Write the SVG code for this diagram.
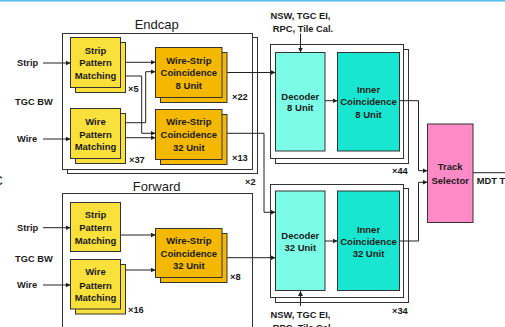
<svg xmlns="http://www.w3.org/2000/svg" width="505" height="327" viewBox="0 0 505 327">
<defs>
<marker id="ah" markerWidth="5" markerHeight="5" refX="5" refY="2.5" orient="auto" markerUnits="userSpaceOnUse"><path d="M0,0 L5,2.5 L0,5 z" fill="#222"/></marker>
<style>
text{font-family:"Liberation Sans",Arial,sans-serif;fill:#1a1a1a}
.b{font-size:9.5px;font-weight:bold;text-anchor:middle}
.l{font-size:9.3px;font-weight:bold}
.m{font-size:9.3px;font-weight:bold}
.t{font-size:13px;text-anchor:middle}
.ct{fill:#fff;stroke:#333;stroke-width:1}
.pm{fill:#FAE03A;stroke:#333;stroke-width:1}
.ws{fill:#F5B800;stroke:#333;stroke-width:1}
.dec{fill:#7CFCE6;stroke:#333;stroke-width:1}
.inn{fill:#19E6D0;stroke:#333;stroke-width:1}
.trk{fill:#FF8AC6;stroke:#333;stroke-width:1}
.cn path{fill:none;stroke:#222;stroke-width:1}
</style>
</defs>
<rect x="0" y="0" width="505" height="1.6" fill="#5BC0F5"/>
<text x="-6.5" y="185" style="font-size:13px">C</text>

<g id="endcap">
<rect class="ct" x="67.5" y="37.5" width="190" height="136"/>
<rect class="ct" x="62.5" y="33.5" width="190" height="136"/>
<text class="t" x="156.7" y="28.5">Endcap</text>
<text class="m" x="245" y="184.5">×2</text>
</g>
<g id="forward">
<rect class="ct" x="62.5" y="193.5" width="190" height="150"/>
<text class="t" x="156.7" y="191">Forward</text>
</g>

<g id="labels">
<text class="l" x="17" y="66.3">Strip</text>
<text class="l" x="15" y="105.3">TGC BW</text>
<text class="l" x="17" y="142.3">Wire</text>
<text class="l" x="17" y="231">Strip</text>
<text class="l" x="15" y="262.3">TGC BW</text>
<text class="l" x="17" y="288.3">Wire</text>
</g>

<g id="e-strip-pm">
<rect class="pm" x="75.5" y="42.5" width="50" height="50"/>
<rect class="pm" x="70.5" y="37.5" width="50" height="50"/>
<text class="b" x="95.5" y="53.5">Strip</text>
<text class="b" x="95.5" y="66.3">Pattern</text>
<text class="b" x="95.5" y="79.2">Matching</text>
<text class="m" x="128" y="91.8">×5</text>
</g>
<g id="e-wire-pm">
<rect class="pm" x="75.5" y="113.5" width="50" height="50"/>
<rect class="pm" x="70.5" y="108.5" width="50" height="50"/>
<text class="b" x="95.5" y="125.2">Wire</text>
<text class="b" x="95.5" y="137.7">Pattern</text>
<text class="b" x="95.5" y="150.2">Matching</text>
<text class="m" x="129" y="162.5">×37</text>
</g>
<g id="e-wsc8">
<rect class="ws" x="160.5" y="52.5" width="66.5" height="50"/>
<rect class="ws" x="155.5" y="47.5" width="66.5" height="50"/>
<text class="b" x="188.8" y="63.5">Wire-Strip</text>
<text class="b" x="188.8" y="76">Coincidence</text>
<text class="b" x="188.8" y="89">8 Unit</text>
<text class="m" x="232" y="100">×22</text>
</g>
<g id="e-wsc32">
<rect class="ws" x="160.5" y="114.5" width="66.5" height="50"/>
<rect class="ws" x="155.5" y="109.5" width="66.5" height="50"/>
<text class="b" x="188.8" y="125.2">Wire-Strip</text>
<text class="b" x="188.8" y="138.2">Coincidence</text>
<text class="b" x="188.8" y="151">32 Unit</text>
<text class="m" x="232" y="161">×13</text>
</g>

<g id="f-strip-pm">
<rect class="pm" x="70.5" y="202.5" width="50" height="49"/>
<text class="b" x="95.5" y="217.8">Strip</text>
<text class="b" x="95.5" y="231">Pattern</text>
<text class="b" x="95.5" y="243.5">Matching</text>
</g>
<g id="f-wire-pm">
<rect class="pm" x="75.5" y="264.5" width="50" height="49.5"/>
<rect class="pm" x="70.5" y="259.5" width="50" height="49.5"/>
<text class="b" x="95.5" y="275.2">Wire</text>
<text class="b" x="95.5" y="288.5">Pattern</text>
<text class="b" x="95.5" y="301">Matching</text>
<text class="m" x="128" y="312.5">×16</text>
</g>
<g id="f-wsc32">
<rect class="ws" x="160.5" y="233.5" width="66.5" height="49"/>
<rect class="ws" x="155.5" y="228.5" width="66.5" height="49"/>
<text class="b" x="188.8" y="244.2">Wire-Strip</text>
<text class="b" x="188.8" y="256.5">Coincidence</text>
<text class="b" x="188.8" y="269">32 Unit</text>
<text class="m" x="230" y="280">×8</text>
</g>

<g id="dec-block-8">
<rect class="ct" x="275.5" y="49.5" width="133" height="114"/>
<rect class="ct" x="270.5" y="44.5" width="133" height="114"/>
<text class="m" x="392" y="174">×44</text>
</g>
<g id="decoder8">
<rect class="dec" x="275.5" y="52.5" width="49.5" height="98.5"/>
<text class="b" x="300.3" y="99.5">Decoder</text>
<text class="b" x="300.3" y="111">8 Unit</text>
</g>
<g id="inner8">
<rect class="inn" x="337.5" y="52.5" width="62" height="98.5"/>
<text class="b" x="368.5" y="92.5">Inner</text>
<text class="b" x="368.5" y="105">Coincidence</text>
<text class="b" x="368.5" y="118">8 Unit</text>
</g>
<g id="dec-block-32">
<rect class="ct" x="275.5" y="188.5" width="133" height="114"/>
<rect class="ct" x="270.5" y="184.5" width="133" height="113"/>
<text class="m" x="392" y="314">×34</text>
</g>
<g id="decoder32">
<rect class="dec" x="275.5" y="191" width="49.5" height="99.5"/>
<text class="b" x="300.3" y="238.5">Decoder</text>
<text class="b" x="300.3" y="251">32 Unit</text>
</g>
<g id="inner32">
<rect class="inn" x="337.5" y="191" width="62" height="99.5"/>
<text class="b" x="368.5" y="232.5">Inner</text>
<text class="b" x="368.5" y="245">Coincidence</text>
<text class="b" x="368.5" y="257">32 Unit</text>
</g>
<g id="track">
<rect class="trk" x="427.5" y="124" width="45.5" height="98.5"/>
<text class="b" x="450.2" y="170.2">Track</text>
<text class="b" x="450.2" y="183.5">Selector</text>
</g>
<g id="inputs">
<text class="l" x="300.5" y="18.5" text-anchor="middle">NSW, TGC EI,</text>
<text class="l" x="303" y="31.5" text-anchor="middle">RPC, Tile Cal.</text>
<text class="l" x="300.5" y="317.8" text-anchor="middle">NSW, TGC EI,</text>
<text class="l" x="303" y="331" text-anchor="middle">RPC, Tile Cal.</text>
<text class="l" x="476.7" y="183.5">MDT T</text>
</g>

<g class="cn" id="connectors">
<path d="M43,63 H70.5" marker-end="url(#ah)"/>
<path d="M43,139 H70.5" marker-end="url(#ah)"/>
<path d="M125.5,62.3 H155.5" marker-end="url(#ah)"/>
<path d="M125.5,76 H141.7 V133.3 H155.5" marker-end="url(#ah)"/>
<path d="M125.5,122.7 H145.7 V71.7 H155.5" marker-end="url(#ah)"/>
<path d="M125.5,137.7 H155.5" marker-end="url(#ah)"/>
<path d="M227,72.5 H275.5" marker-end="url(#ah)"/>
<path d="M227,133.3 H264 V212.3 H275.5" marker-end="url(#ah)"/>
<path d="M43,227.7 H70.5" marker-end="url(#ah)"/>
<path d="M43,285 H70.5" marker-end="url(#ah)"/>
<path d="M120.5,235 H155.5" marker-end="url(#ah)"/>
<path d="M125.5,270 H155.5" marker-end="url(#ah)"/>
<path d="M227,257.7 H275.5" marker-end="url(#ah)"/>
<path d="M325,100.7 H337.5" marker-end="url(#ah)"/>
<path d="M325,241 H337.5" marker-end="url(#ah)"/>
<path d="M399.5,100.7 H418.5 V170.7 H427.5" marker-end="url(#ah)"/>
<path d="M399.5,241 H418.5 V182.3 H427.5" marker-end="url(#ah)"/>
<path d="M473,172.7 H505"/>
<path d="M300.5,33.5 V52.5" marker-end="url(#ah)"/>
<path d="M300.5,306 V291" marker-end="url(#ah)"/>
</g>
</svg>
